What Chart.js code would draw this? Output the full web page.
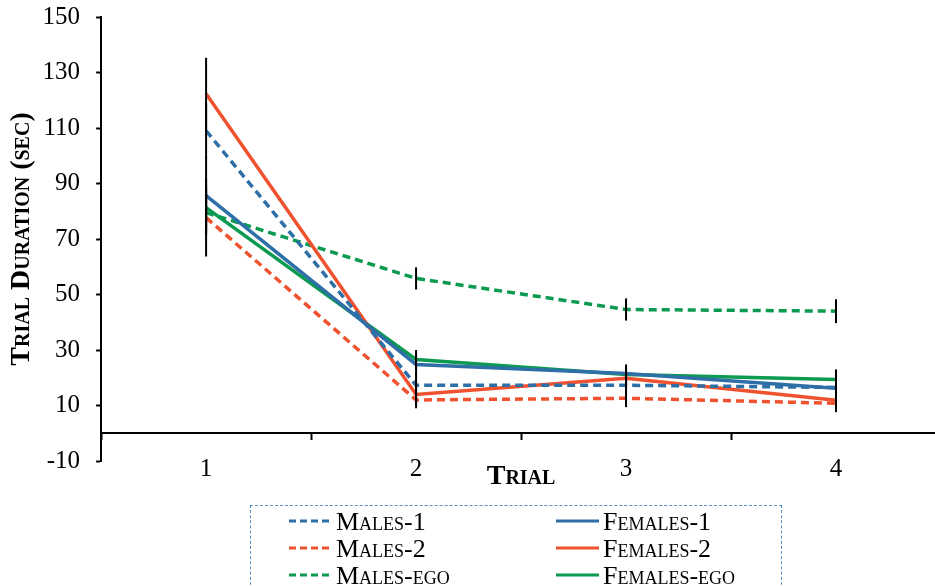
<!DOCTYPE html>
<html>
<head>
<meta charset="utf-8">
<script src="https://cdn.jsdelivr.net/npm/chart.js@4/dist/chart.umd.min.js"></script>
<style>
  html, body { margin: 0; padding: 0; background: #fff; overflow: hidden; }
  #wrap { position: relative; width: 935px; height: 586px; overflow: hidden; }
  #legend {
    position: absolute; left: 250px; top: 505px; width: 532px; height: 90px;
    border: 1px dashed #5a8fc4; box-sizing: border-box;
    font-family: 'Liberation Serif', serif; font-variant: small-caps; font-size: 26px; color: #000;
  }
  .item { position: absolute; height: 27px; line-height: 27px; white-space: nowrap; }
  .item svg { vertical-align: middle; margin-right: 4px; position: relative; top: -3px; }
</style>
</head>
<body>
<div id="wrap">
  <canvas id="c" width="941" height="586"></canvas>
  <div id="legend"></div>
</div>
<script>
const trials = ['1', '2', '3', '4']
const yTicks = [-10, 10, 30, 50, 70, 90, 110, 130, 150]

const males1 = [109, 17.3, 17.3, 16.5]
const males2 = [77.7, 12, 12.6, 10.8]
const malesEgo = [79.5, 55.8, 44.6, 44]
const females1 = [85.6, 24.8, 21.5, 16.2]
const females2 = [122.3, 14, 19.8, 11.9]
const femalesEgo = [81.3, 26.6, 21.2, 19.4]

// +/- error for each series
const males1Err = [10, 4, 3, 3]
const males2Err = [14, 3, 3.2, 3.2]
const malesEgoErr = [8, 4, 4, 4.3]
const females1Err = [14, 4, 3, 3]
const females2Err = [13, 4, 3, 3]
const femalesEgoErr = [8, 3.4, 3.6, 3.6]

const blue = '#2E6FA7', red = '#F0512E', green = '#0B9A50'
const serif = "'Liberation Serif', 'Times New Roman', serif"

const makeSet = (label, data, err, color, dashed) => ({
  label: label,
  data: data,
  err: err,
  borderColor: color,
  backgroundColor: color,
  borderWidth: 3.5,
  borderDash: dashed ? [8, 5] : [],
  pointRadius: 0,
  tension: 0,
  fill: false
})

const datasets = [
  makeSet('Males-1', males1, males1Err, blue, true),
  makeSet('Females-1', females1, females1Err, blue, false),
  makeSet('Males-2', males2, males2Err, red, true),
  makeSet('Females-2', females2, females2Err, red, false),
  makeSet('Males-ego', malesEgo, malesEgoErr, green, true),
  makeSet('Females-ego', femalesEgo, femalesEgoErr, green, false)
]

const errorBars = {
  id: 'errorBars',
  afterDatasetsDraw: (chart) => {
    const ctx = chart.ctx
    const x = chart.scales.x, y = chart.scales.y
    ctx.save()
    ctx.strokeStyle = '#000'
    ctx.lineWidth = 2
    chart.data.datasets.forEach(ds => {
      ds.data.forEach((v, i) => {
        const px = x.getPixelForValue(i)
        ctx.beginPath()
        ctx.moveTo(px, y.getPixelForValue(v - ds.err[i]))
        ctx.lineTo(px, y.getPixelForValue(v + ds.err[i]))
        ctx.stroke()
      })
    })
    ctx.restore()
  }
}

const tickFont = { family: serif, size: 25 }
const titleFont = { family: serif, size: 28, weight: 'small-caps bold' }

const chart = new Chart(document.getElementById('c'), {
  type: 'line',
  data: { labels: trials, datasets: datasets },
  options: {
    responsive: false,
    animation: false,
    layout: { padding: { left: 0, right: 0, top: 17, bottom: 125 } },
    plugins: { legend: { display: false }, tooltip: { enabled: false } },
    scales: {
      x: {
        position: { y: 0 },
        offset: true,
        grid: { offset: true, drawOnChartArea: false, color: '#000', tickLength: 6, tickWidth: 2 },
        border: { color: '#000', width: 2 },
        ticks: { color: '#000', font: tickFont, padding: 15 },
        title: { display: true, text: 'Trial', color: '#000', font: titleFont, padding: { top: -39, bottom: 0 } }
      },
      y: {
        min: -10,
        max: 150,
        afterBuildTicks: axis => { axis.ticks = yTicks.map(v => ({ value: v })) },
        afterFit: axis => { axis.paddingTop = 0; axis.paddingBottom = 0 },
        grid: { drawOnChartArea: false, color: '#000', tickLength: 5, tickWidth: 2 },
        border: { color: '#000', width: 2 },
        ticks: { color: '#000', font: tickFont, padding: 16 },
        title: { display: true, text: 'Trial Duration (sec)', color: '#000', font: titleFont, padding: { top: 5, bottom: -12 } }
      }
    }
  },
  plugins: [errorBars]
})

// legend built from the chart datasets
const legend = document.getElementById('legend')
const legendX = [38, 305], legendY = [2, 29, 56]
chart.data.datasets.forEach((ds, i) => {
  const col = i % 2, row = Math.floor(i / 2)
  const item = document.createElement('div')
  item.className = 'item'
  item.style.left = legendX[col] + 'px'
  item.style.top = legendY[row] + 'px'
  const dash = ds.borderDash.length ? 'stroke-dasharray="7 4"' : ''
  item.innerHTML = `<svg width="43" height="4"><line x1="0" y1="2" x2="43" y2="2" stroke="${ds.borderColor}" stroke-width="3" ${dash}/></svg>${ds.label}`
  legend.appendChild(item)
})
</script>
</body>
</html>
